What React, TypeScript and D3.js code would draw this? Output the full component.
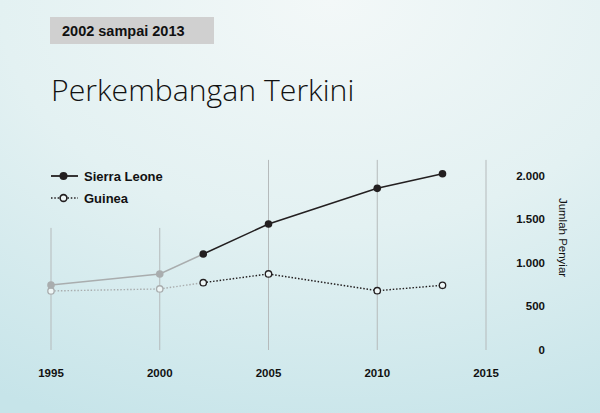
import React from 'react';
import * as d3 from 'd3';

const years = [1995, 2000, 2002, 2005, 2010, 2013];
const sierraLeone = [745, 872, 1101, 1445, 1854, 2022];
const guinea = [677, 700, 772, 872, 680, 742];
const xTicks = [1995, 2000, 2005, 2010, 2015];
const yTicks = [0, 500, 1000, 1500, 2000];
// top end of each vertical grid line, in data units
const gridTops = [1400, 1400, 2180, 2180, 2180];
const highlightFrom = 2002;

const W = 600;
const H = 413;

const fmt = (v: number) => d3.format(',')(v).replace(/,/g, '.');

const App: React.FC = () => {
  const x = d3.scaleLinear().domain([1995, 2015]).range([51, 486]);
  const y = d3.scaleLinear().domain([0, 2000]).range([350, 175.6]);

  const sl = years.map((yr, i) => ({ yr, v: sierraLeone[i] }));
  const gn = years.map((yr, i) => ({ yr, v: guinea[i] }));
  const line = d3.line<{ yr: number; v: number }>().x(d => x(d.yr)).y(d => y(d.v));

  const early = (s: { yr: number; v: number }[]) => s.filter(d => d.yr <= highlightFrom);
  const late = (s: { yr: number; v: number }[]) => s.filter(d => d.yr >= highlightFrom);

  const gray = '#a9adae';
  const dark = '#231f20';
  const bold = '"Liberation Sans", Arial, sans-serif';

  return (
    <svg width={W} height={H} style={{ position: 'absolute', left: 0, top: 0 }}>
      <defs>
        <radialGradient id="bg" cx="0.55" cy="0" r="1.1">
          <stop offset="0" stopColor="#f3f8f8" />
          <stop offset="0.5" stopColor="#e3f1f2" />
          <stop offset="1" stopColor="#c6e4e9" />
        </radialGradient>
      </defs>
      <rect width={W} height={H} fill="url(#bg)" />

      <rect x={50} y={17} width={164} height={27} fill="#d0d0d0" />
      <text x={62} y={36} fontFamily={bold} fontWeight="bold" fontSize={14.5} fill="#111">
        2002 sampai 2013
      </text>
      <text x={51} y={101} fontFamily='"Open Sans", sans-serif' fontWeight={300} fontSize={30.2} fill="#111">
        Perkembangan Terkini
      </text>

      {xTicks.map((t, i) => (
        <g key={t}>
          <line x1={x(t)} x2={x(t)} y1={y(gridTops[i])} y2={y(0)} stroke="#b5babb" strokeWidth={1} />
          <text x={x(t)} y={377} textAnchor="middle" fontFamily={bold} fontWeight="bold" fontSize={11.5} fill="#111">
            {t}
          </text>
        </g>
      ))}

      {yTicks.map(t => (
        <text key={t} x={545} y={y(t) + 4} textAnchor="end" fontFamily={bold} fontWeight="bold" fontSize={11.5} fill="#111">
          {fmt(t)}
        </text>
      ))}
      <text
        transform={`translate(559,${y(1290)}) rotate(90)`}
        textAnchor="middle"
        fontFamily={bold}
        fontSize={11.5}
        fill="#111"
      >
        Jumlah Penyiar
      </text>

      {/* Guinea */}
      <path d={line(early(gn)) || ''} fill="none" stroke={gray} strokeWidth={1.4} strokeDasharray="1.5,1.8" />
      <path d={line(late(gn)) || ''} fill="none" stroke={dark} strokeWidth={1.4} strokeDasharray="1.5,1.8" />
      {gn.map(d => (
        <circle key={d.yr} cx={x(d.yr)} cy={y(d.v)} r={3.2} fill="#eef6f6" stroke={d.yr < highlightFrom ? gray : dark} strokeWidth={1.3} />
      ))}

      {/* Sierra Leone */}
      <path d={line(early(sl)) || ''} fill="none" stroke={gray} strokeWidth={1.5} />
      <path d={line(late(sl)) || ''} fill="none" stroke={dark} strokeWidth={1.5} />
      {sl.map(d => (
        <circle key={d.yr} cx={x(d.yr)} cy={y(d.v)} r={3.8} fill={d.yr < highlightFrom ? gray : dark} />
      ))}

      {/* legend */}
      <line x1={51} x2={78} y1={176} y2={176} stroke={dark} strokeWidth={1.8} />
      <circle cx={63.5} cy={176} r={4} fill={dark} />
      <text x={84} y={180.5} fontFamily={bold} fontWeight="bold" fontSize={13} fill="#111">Sierra Leone</text>
      <line x1={51} x2={78} y1={198} y2={198} stroke={dark} strokeWidth={1.6} strokeDasharray="1.5,1.8" />
      <circle cx={63.5} cy={198} r={3.4} fill="#eef6f6" stroke={dark} strokeWidth={1.6} />
      <text x={84} y={202.5} fontFamily={bold} fontWeight="bold" fontSize={13} fill="#111">Guinea</text>
    </svg>
  );
};

export default App;
